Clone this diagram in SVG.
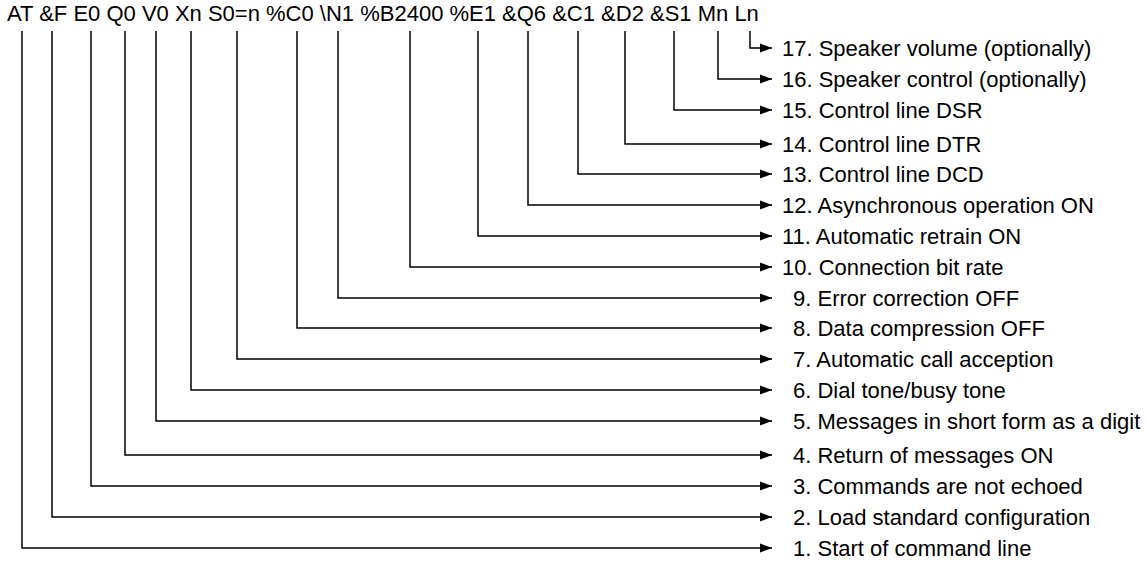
<svg xmlns="http://www.w3.org/2000/svg" width="1147" height="562" viewBox="0 0 1147 562">
<style>
text{font-family:"Liberation Sans",Arial,sans-serif;font-size:22px;fill:#000}
.c{fill:none;stroke:#000;stroke-width:1.5;marker-end:url(#ah)}
</style>
<defs>
<marker id="ah" markerUnits="userSpaceOnUse" markerWidth="13" markerHeight="10" refX="12" refY="5" orient="auto">
<path d="M0,0.5 L12,5 L0,9.5 z" fill="#000"/>
</marker>
</defs>
<rect width="1147" height="562" fill="#fff"/>
<g id="commands">
<text x="7" y="21">AT &amp;F E0 Q0 V0 Xn S0=n %C0 \N1 %B2400 %E1 &amp;Q6 &amp;C1 &amp;D2 &amp;S1 Mn Ln</text>
</g>
<g id="connectors">
<path class="c" d="M22,31 V548 H772"/>
<path class="c" d="M52,31 V517 H772"/>
<path class="c" d="M91,31 V486 H772"/>
<path class="c" d="M125,31 V455 H772"/>
<path class="c" d="M156,31 V421 H772"/>
<path class="c" d="M191,31 V390 H772"/>
<path class="c" d="M237,31 V359 H772"/>
<path class="c" d="M297,31 V328 H772"/>
<path class="c" d="M338,31 V298 H772"/>
<path class="c" d="M410,31 V267 H772"/>
<path class="c" d="M478,31 V236 H772"/>
<path class="c" d="M528,31 V205 H772"/>
<path class="c" d="M578,31 V174 H772"/>
<path class="c" d="M625,31 V144 H772"/>
<path class="c" d="M674,31 V110 H772"/>
<path class="c" d="M718,31 V79 H772"/>
<path class="c" d="M750,31 V48 H772"/>
</g>
<g id="labels">
<text x="782" y="56">17. Speaker volume (optionally)</text>
<text x="782" y="87">16. Speaker control (optionally)</text>
<text x="782" y="118">15. Control line DSR</text>
<text x="782" y="152">14. Control line DTR</text>
<text x="782" y="182">13. Control line DCD</text>
<text x="782" y="213">12. Asynchronous operation ON</text>
<text x="782" y="244">11. Automatic retrain ON</text>
<text x="782" y="275">10. Connection bit rate</text>
<text x="793" y="306">9. Error correction OFF</text>
<text x="793" y="336">8. Data compression OFF</text>
<text x="793" y="367">7. Automatic call acception</text>
<text x="793" y="398">6. Dial tone/busy tone</text>
<text x="793" y="429">5. Messages in short form as a digit</text>
<text x="793" y="463">4. Return of messages ON</text>
<text x="793" y="494">3. Commands are not echoed</text>
<text x="793" y="525">2. Load standard configuration</text>
<text x="793" y="556">1. Start of command line</text>
</g>
</svg>
